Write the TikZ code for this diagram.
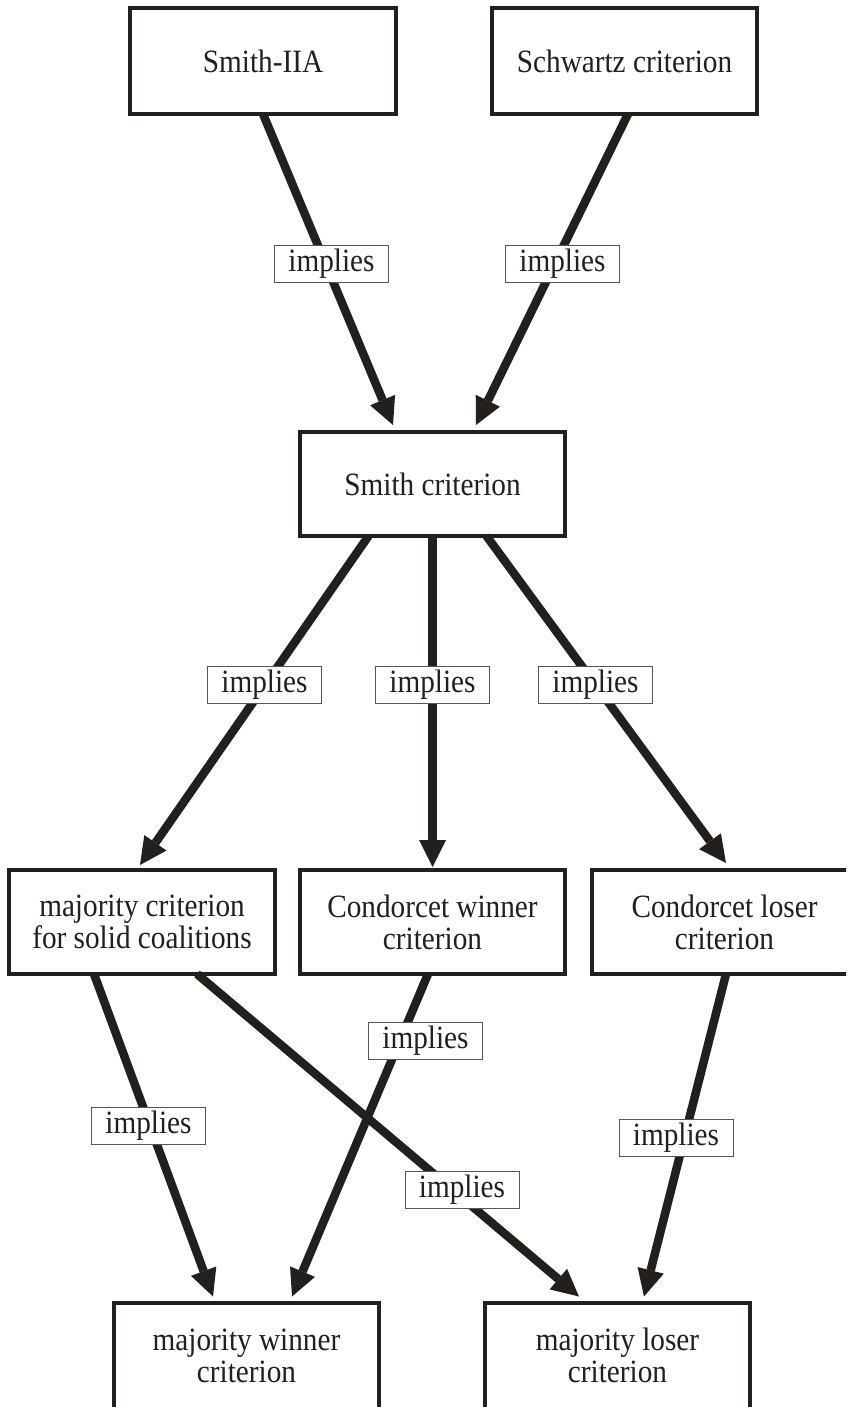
\documentclass[tikz,border=0pt]{standalone}
\usepackage{fontspec}
\setmainfont{Liberation Serif}[FakeStretch=0.9]
\usetikzlibrary{arrows.meta}
\definecolor{ink}{HTML}{221F1C}
\definecolor{labgray}{HTML}{555555}
\newcommand{\critfont}{\fontsize{32.5}{32}\selectfont}
\begin{document}
\begin{tikzpicture}[x=1pt,y=-1pt,
  crit/.style={draw=ink, line width=4pt, fill=white, minimum width=265.5pt,
    minimum height=104pt, inner sep=0pt, align=center, font=\critfont, text=ink},
  tallbox/.style={minimum height=106pt},
  imp/.style={draw=labgray, line width=1pt, fill=white, minimum width=114pt,
    minimum height=37pt, inner sep=0pt, font=\critfont, text=ink},
  arr/.style={draw=ink, line width=8.5pt,
    -{Triangle[width=27pt,length=27pt,line width=0pt]}}]
\useasboundingbox (0,0) rectangle (846,1407);
\clip (0,0) rectangle (846,1407);
% boxes
\node[crit,tallbox] (siia) at (263,61) {Smith-IIA};
\node[crit,tallbox] (schwartz) at (624.5,61) {Schwartz criterion};
\node[crit] (smith) at (432.5,484) {Smith criterion};
\node[crit] (msc) at (142,922) {majority criterion\\for solid coalitions};
\node[crit] (cw) at (432.5,922) {Condorcet winner\\criterion};
\node[crit] (cl) at (724.5,922) {Condorcet loser\\criterion};
\node[crit,tallbox] (mw) at (246.5,1355.5) {majority winner\\criterion};
\node[crit,tallbox] (ml) at (617.5,1355.5) {majority loser\\criterion};
% arrows
\draw[arr] ([yshift=2pt]siia.south) -- ([xshift=-39.5pt,yshift=5pt]smith.north);
\draw[arr] ([xshift=3.5pt,yshift=2pt]schwartz.south) -- ([xshift=43.5pt,yshift=5pt]smith.north);
\draw[arr] ([xshift=-64pt,yshift=2pt]smith.south) -- ([xshift=-2pt,yshift=3pt]msc.north);
\draw[arr] ([yshift=2pt]smith.south) -- ([yshift=1pt]cw.north);
\draw[arr] ([xshift=54pt,yshift=2pt]smith.south) -- ([xshift=1.5pt,yshift=5pt]cl.north);
\draw[arr] ([xshift=-48pt,yshift=2pt]msc.south) -- ([xshift=-33.5pt,yshift=4pt]mw.north);
\draw[arr] ([xshift=55pt,yshift=2pt]msc.south) -- ([xshift=-38.5pt,yshift=4pt]ml.north);
\draw[arr] ([xshift=-4.5pt,yshift=2pt]cw.south) -- ([xshift=45.5pt,yshift=4pt]mw.north);
\draw[arr] ([xshift=1.5pt,yshift=2pt]cl.south) -- ([xshift=26.5pt,yshift=4pt]ml.north);
% labels
\node[imp] (l1) at (331.5,264) {implies};
\node[imp] (l2) at (562.5,264) {implies};
\node[imp] (l3) at (264.5,684.5) {implies};
\node[imp] (l4) at (432.5,684.5) {implies};
\node[imp] (l5) at (595.5,684.5) {implies};
\node[imp] (l6) at (425.5,1040.5) {implies};
\node[imp] (l7) at (148.5,1126) {implies};
\node[imp] (l8) at (462,1190) {implies};
\node[imp] (l9) at (676,1137.5) {implies};
\end{tikzpicture}
\end{document}
